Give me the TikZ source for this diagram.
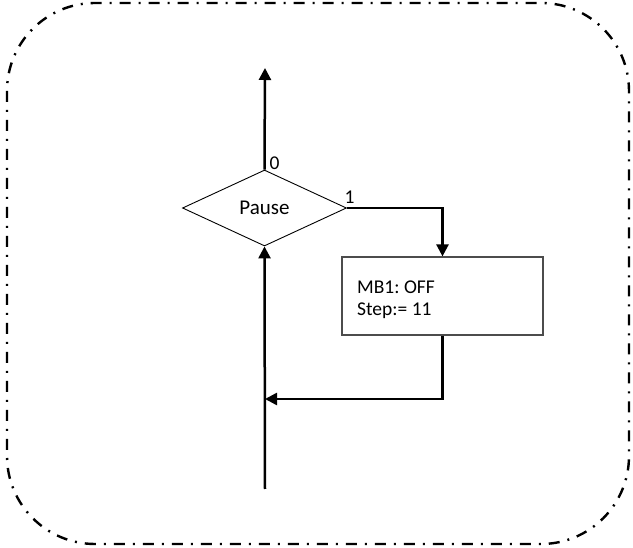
\documentclass[tikz,border=0pt]{standalone}
\usepackage{fontspec}
\setmainfont{Carlito}
\frenchspacing
\usetikzlibrary{shapes.geometric,arrows.meta}
\begin{document}
\begin{tikzpicture}[x=1pt,y=-1pt,
  flow/.style={line width=2.5pt,-{Triangle[length=12pt,width=12pt]}},
  decision/.style={draw,diamond,line width=0.9pt,minimum width=164pt,minimum height=76pt,inner sep=0pt,aspect=2.16,font=\fontsize{21}{24}\selectfont},
  actionbox/.style={draw=black!70,line width=1.2pt,rectangle,minimum width=201pt,minimum height=78pt,inner sep=0pt},
  boxtext/.style={inner sep=0pt,anchor=base west,font=\fontsize{19.5}{23}\selectfont},
  lbl/.style={inner sep=0pt,anchor=base west,font=\fontsize{19.5}{22}\selectfont},
  frame/.style={line width=2.4pt,rounded corners=88pt,dash pattern=on 11pt off 8pt on 2pt off 8pt}]
\useasboundingbox (0,0) rectangle (633,548);
\draw[frame] (7,3) rectangle (629,544);
\node[decision] (d) at (264.5,208) {Pause};
\node[actionbox] (b) at (442.5,296) {};
\node[boxtext] (t1) at (357,294) {MB1: OFF};
\node[boxtext] (t2) at (357,316) {Step:= 11};
\coordinate (top) at (265,68);
\coordinate (join) at (265,399);
\coordinate (bot) at (265,489);
\draw[flow] (d.north) -- (top);
\draw[flow] (d.east) -| (b.north);
\draw[flow] (b.south) |- (join);
\draw[flow] (bot) -- (d.south);
\node[lbl] (l0) at (269.5,170) {0};
\node[lbl] (l1) at (344.5,204) {1};
\end{tikzpicture}
\end{document}
